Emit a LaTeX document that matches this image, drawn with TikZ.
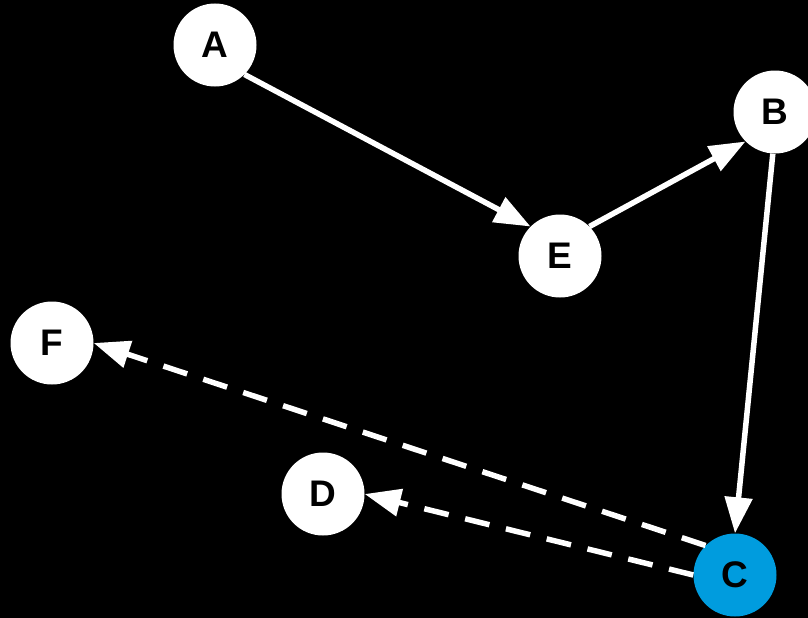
\documentclass[tikz,border=0pt]{standalone}
\usepackage{fontspec}
\setmainfont{Liberation Sans}
\usepackage{xcolor}
\usetikzlibrary{arrows.meta}
\definecolor{cblue}{RGB}{0,156,222}

\begin{document}
\begin{tikzpicture}[x=1pt,y=-1pt,vtx/.style={circle,fill=white,minimum size=83pt,inner sep=0pt,font=\fontsize{37}{40}\selectfont\bfseries},edge/.style={white,line width=5.5pt,-{Triangle[length=36pt,width=27pt]}},dashedge/.style={edge,dash pattern=on 25pt off 17pt}]
\fill[black] (0,0) rectangle (808,618);
\useasboundingbox (0,0) rectangle (808,618);
\node[vtx] (a) at (215,45) {A};
\node[vtx] (b) at (775,112) {B};
\node[vtx] (e) at (560,256) {E};
\node[vtx] (f) at (52,343) {F};
\node[vtx] (d) at (323,494) {D};
\node[vtx,fill=cblue] (c) at (735,575) {C};
\draw[edge] (a.-45) -- (e.135);
\draw[edge] (e.45) -- (b.-135);
\draw[edge] (b.-93) -- (c.90);
\draw[dashedge] (c.135) -- (f.0);
\draw[dashedge] (c.180) -- (d.0);
\end{tikzpicture}
\end{document}
